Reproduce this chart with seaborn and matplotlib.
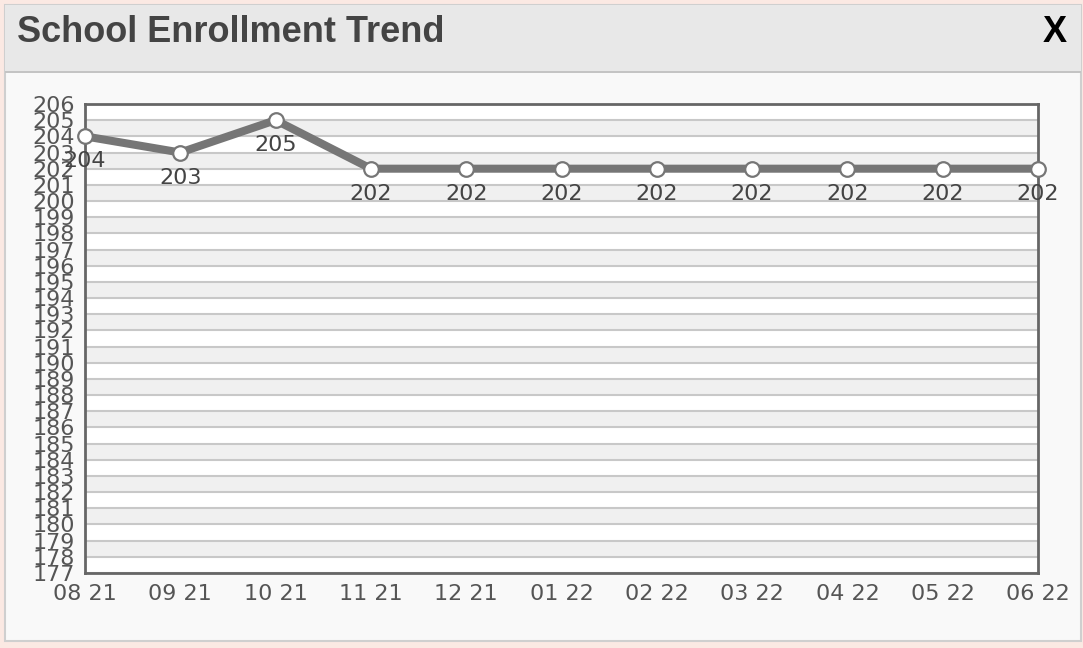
"""
School Enrollment Trend - line chart recreation
"""

import matplotlib.pyplot as plt
import seaborn as sns
import numpy as np
from matplotlib.patches import Rectangle

# Data
months = ['08 21', '09 21', '10 21', '11 21', '12 21', '01 22',
          '02 22', '03 22', '04 22', '05 22', '06 22']
enrollment = [204, 203, 205, 202, 202, 202, 202, 202, 202, 202, 202]
y_min, y_max = 177, 206

sns.set_style("white")
plt.rcParams['font.family'] = ['DejaVu Sans']

W, H = 1083, 648
fig = plt.figure(figsize=(W / 100, H / 100), dpi=100)
fig.patch.set_facecolor('#fbe9e3')

# panel body + header
fig.patches.append(Rectangle((5 / W, 1 - 641 / H), 1076 / W, 636 / H,
                             transform=fig.transFigure, facecolor='#f9f9f9',
                             edgecolor='#cfcfcf', linewidth=1.5, zorder=0))
fig.patches.append(Rectangle((5 / W, 1 - 71 / H), 1076 / W, 66 / H,
                             transform=fig.transFigure, facecolor='#e8e8e8',
                             edgecolor='none', zorder=1))
fig.patches.append(Rectangle((5 / W, 1 - 73 / H), 1076 / W, 2.5 / H,
                             transform=fig.transFigure, facecolor='#c4c4c4',
                             edgecolor='none', zorder=1))
fig.text(17 / W, 1 - 33 / H, 'School Enrollment Trend', fontsize=26,
         fontweight='bold', color='#444444', family='Liberation Sans',
         ha='left', va='center')
fig.text(1055 / W, 1 - 33 / H, 'X', fontsize=26, fontweight='bold',
         color='black', family='Liberation Sans', ha='center', va='center')

ax = fig.add_axes([85 / W, 1 - 573 / H, 953 / W, 469 / H])
ax.set_zorder(5)
ax.set_facecolor('white')

# alternating bands and grid lines
for v in range(y_min, y_max):
    if v % 2 == 0:
        ax.axhspan(v, v + 1, color='#f0f0f0', zorder=0, lw=0)
    ax.axhline(v, color='#c8c8c8', lw=1.5, zorder=0.5)

x = np.arange(len(months))
sns.lineplot(x=x, y=enrollment, ax=ax, color='#767676', linewidth=5.8,
             marker='o', markersize=10.5, markerfacecolor='white',
             markeredgecolor='#767676', markeredgewidth=1.6,
             clip_on=False, zorder=5)

for xi, v in zip(x, enrollment):
    ax.annotate(str(v), (xi, v), xytext=(0, -25), textcoords='offset pixels',
                ha='center', va='center', fontsize=16, color='#444444',
                zorder=6, annotation_clip=False)

ax.set_xlim(0, len(months) - 1)
ax.set_ylim(y_min, y_max)
ax.set_xticks(x)
ax.set_xticklabels(months)
ax.set_yticks(range(y_min, y_max + 1))
ax.tick_params(axis='both', length=0, labelsize=16, labelcolor='#555555')
ax.tick_params(axis='x', pad=8)
ax.tick_params(axis='y', pad=7)

for s in ax.spines.values():
    s.set_visible(True)
    s.set_color('#666666')
    s.set_linewidth(2)
    s.set_zorder(4)

fig.savefig('out.png', dpi=100, facecolor=fig.get_facecolor())
